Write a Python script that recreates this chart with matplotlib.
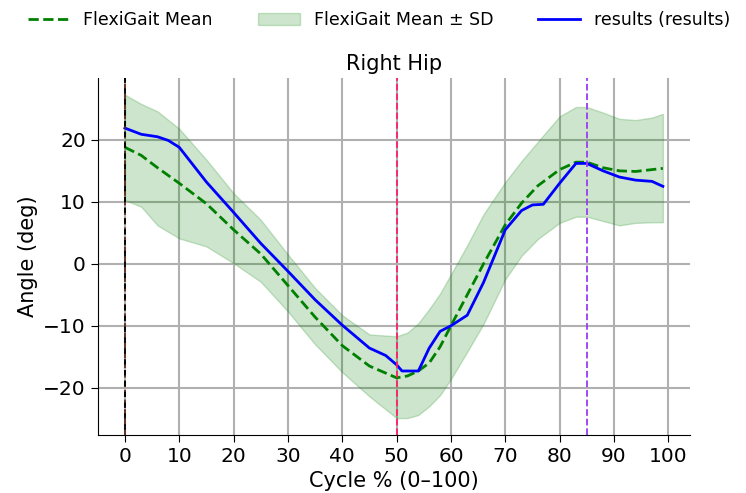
import matplotlib.pyplot as plt

# FlexiGait reference (mean and +/- SD band)
ref_x = [0, 3, 6, 10, 15, 20, 25, 30, 35, 40, 45, 50, 52, 54, 56, 58, 60,
         63, 66, 70, 73, 76, 80, 83, 85, 88, 91, 94, 97, 99]
ref_mean = [18.8, 17.5, 15.5, 13.0, 9.7, 5.5, 1.6, -3.5, -8.6, -13.2, -16.5,
            -18.4, -18.1, -17.3, -16.0, -13.4, -10.0, -5.0, 0.0, 6.3, 9.8,
            12.6, 15.2, 16.4, 16.4, 15.5, 15.0, 14.9, 15.2, 15.4]
ref_upper = [27.3, 25.8, 24.6, 21.8, 16.8, 11.4, 7.1, 1.5, -3.9, -8.3, -11.4,
             -11.7, -11.1, -9.6, -7.3, -4.8, -1.7, 3.0, 8.0, 13.2, 16.6,
             19.7, 23.8, 25.3, 25.3, 24.4, 23.4, 23.2, 23.6, 24.2]
ref_lower = [10.3, 9.2, 6.2, 4.1, 2.8, 0.1, -2.9, -7.7, -13.0, -17.5, -21.4,
             -24.9, -24.9, -24.4, -23.0, -21.2, -18.6, -14.2, -9.7, -2.5, 1.3,
             4.0, 6.6, 7.6, 7.6, 6.9, 6.2, 6.6, 6.7, 6.7]

# subject results
res_x = [0, 3, 6, 8, 10, 15, 20, 25, 30, 35, 40, 45, 48, 50, 51, 54, 56, 58,
         60, 63, 66, 70, 73, 75, 77, 80, 83, 85, 88, 91, 94, 97, 99]
res_y = [21.9, 20.9, 20.5, 19.9, 18.8, 13.2, 8.3, 3.3, -1.2, -5.8, -9.9,
         -13.6, -14.8, -16.3, -17.3, -17.3, -13.6, -10.9, -10.0, -8.3, -3.0,
         5.5, 8.6, 9.5, 9.6, 13.0, 16.2, 16.2, 15.0, 14.0, 13.5, 13.3, 12.5]

events = [0, 50, 85]

fig = plt.figure(figsize=(7.46, 4.93), dpi=100)
ax = fig.add_axes([0.131, 0.118, 0.794, 0.724])

ax.fill_between(ref_x, ref_lower, ref_upper, color="green", alpha=0.2,
                label="FlexiGait Mean ± SD")
ax.plot(ref_x, ref_mean, color="green", linestyle="--", linewidth=2,
        label="FlexiGait Mean")
ax.plot(res_x, res_y, color="blue", linewidth=2, label="results (results)")

ax.axvline(events[0], color="#5a2a1a", linestyle="--", linewidth=1.3)
ax.axvline(events[0], color="black", linestyle=(3, (3, 3)), linewidth=1.3)
ax.axvline(events[1], color="#ff1f6b", linestyle="--", linewidth=1.3)
ax.axvline(events[2], color="#9a3cf0", linestyle="--", linewidth=1.3)

ax.set_xlim(-5, 104)
ax.set_ylim(-27.6, 30)
ax.set_xticks(range(0, 101, 10))
ax.set_yticks([-20, -10, 0, 10, 20])
ax.grid(True, color="#b0b0b0", linewidth=1.5)
ax.set_axisbelow(True)
ax.spines["top"].set_visible(False)
ax.spines["right"].set_visible(False)
ax.tick_params(length=5, labelsize=14.5)

ax.set_title("Right Hip", fontsize=15)
ax.set_xlabel("Cycle % (0–100)", fontsize=15)
ax.set_ylabel("Angle (deg)", fontsize=15)

handles, labels = ax.get_legend_handles_labels()
order = [1, 0, 2]
fig.legend([handles[i] for i in order], [labels[i] for i in order],
           loc="upper center", bbox_to_anchor=(0.508, 1.01), ncol=3,
           frameon=False, fontsize=12.5, columnspacing=2.6,
           handlelength=2.4)

fig.savefig("out.png", dpi=100)
